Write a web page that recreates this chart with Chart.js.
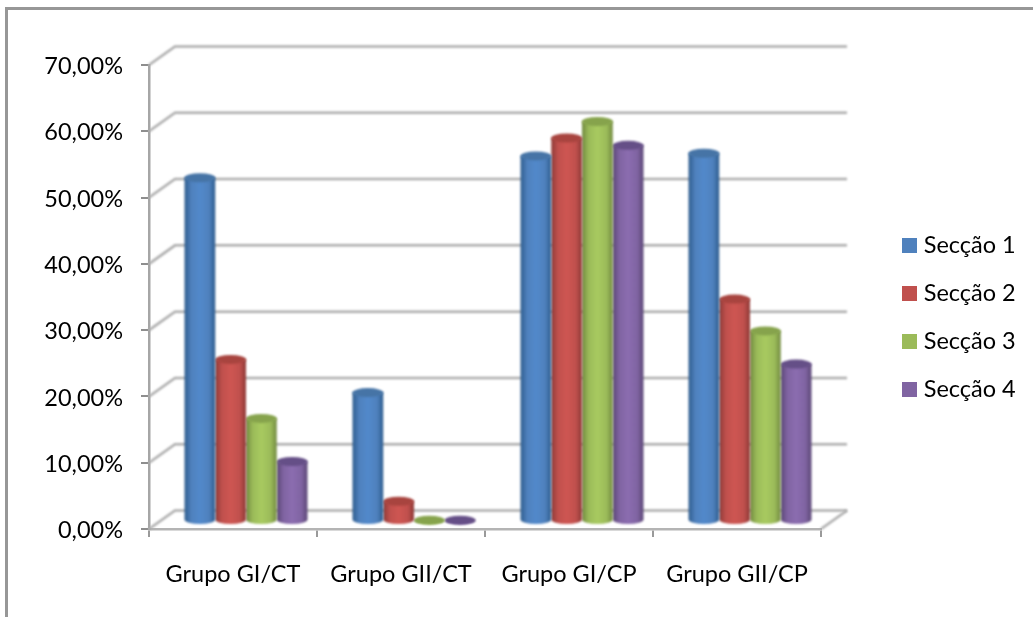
<!DOCTYPE html>
<html>
<head>
<meta charset="utf-8">
<style>
  html, body { margin: 0; padding: 0; background: #fff; }
  #wrap { position: relative; width: 1033px; height: 617px; }
</style>
<script src="https://cdn.jsdelivr.net/npm/chart.js@4/dist/chart.umd.min.js"></script>
</head>
<body>
<div id="wrap"><canvas id="chart" width="1033" height="617"></canvas></div>
<script>
// ── Data ─────────────────────────────────────────────────────
const categories = ['Grupo GI/CT', 'Grupo GII/CT', 'Grupo GI/CP', 'Grupo GII/CP'];
const seccao1 = [51.7, 19.3, 55.0, 55.4];
const seccao2 = [24.3, 2.9, 57.7, 33.4];
const seccao3 = [15.4, 0.05, 60.2, 28.6];
const seccao4 = [8.9, 0.05, 56.6, 23.6];
const seriesNames = ['Secção 1', 'Secção 2', 'Secção 3', 'Secção 4'];
const yTickLabels = ['0,00%', '10,00%', '20,00%', '30,00%', '40,00%', '50,00%', '60,00%', '70,00%'];

// ── Styles ───────────────────────────────────────────────────
const FONT = { family: 'Lato', size: 23.5 };
const seriesColor = ['#4F81BD', '#C0504D', '#9BBB59', '#8064A2'];
const seriesLight = ['#5289CB', '#CE5652', '#A8CA60', '#8B6DB0'];
const seriesDark  = ['#2F5D8E', '#8E3A37', '#728A41', '#5B4776'];
const seriesCap   = ['#4674A6', '#A8443F', '#86A34C', '#654F87'];
const WALL_DX = 26, WALL_DY = 18.5;   // depth of the 3D box
const BAR_DX = 13, BAR_DY = 8.5;      // bars stand in the middle of the floor
const CAP_RY = 4.5;
const SOFT = 'blur(0.8px)';           // the original is an upscaled, slightly soft image

// legend swatch, 15px square, as a point style so the text can sit closer to it
function swatch(color) {
  const c = document.createElement('canvas');
  c.width = 15; c.height = 15;
  const g = c.getContext('2d');
  g.fillStyle = color;
  g.fillRect(0, 0, 15, 15);
  return c;
}

// ── Plugins ──────────────────────────────────────────────────
const frameAndWalls = {
  id: 'frameAndWalls',
  beforeLayout(chart) {
    // legend takes a fixed column so the plot ends where the original does
    const l = chart.legend;
    if (l && !l._fixedFit) {
      const fit = l.fit;
      l.fit = function () { fit.call(this); this.width = 212; };
      l._fixedFit = true;
    }
  },
  afterLayout(chart) {
    const l = chart.legend;
    l.left = 882.5; l.right = 1033;
    const shift = 24;
    l.top -= shift; l.bottom -= shift;
  },
  beforeDatasetsDraw(chart) {
    const { ctx, scales: { y }, chartArea: a } = chart;
    ctx.save();
    // outer frame, top and left only
    ctx.strokeStyle = '#979797';
    ctx.lineWidth = 3;
    ctx.beginPath();
    ctx.moveTo(1033, 8.5); ctx.lineTo(6.5, 8.5); ctx.lineTo(6.5, 617);
    ctx.stroke();
    // back wall grid lines
    ctx.filter = SOFT;
    ctx.strokeStyle = '#acacac';
    ctx.lineWidth = 2.5;
    y.ticks.forEach(t => {
      const py = y.getPixelForValue(t.value);
      ctx.beginPath();
      ctx.moveTo(a.left, py);
      ctx.lineTo(a.left + WALL_DX, py - WALL_DY);
      ctx.lineTo(a.right + WALL_DX, py - WALL_DY);
      ctx.stroke();
    });
    // floor right edge
    const py0 = y.getPixelForValue(0);
    ctx.beginPath();
    ctx.moveTo(a.right, py0);
    ctx.lineTo(a.right + WALL_DX, py0 - WALL_DY);
    ctx.stroke();
    ctx.restore();
  }
};

const cylinders = {
  id: 'cylinders',
  beforeDatasetDraw(chart, args) {
    const ctx = chart.ctx;
    const i = args.index;
    ctx.save();
    ctx.filter = SOFT;
    ctx.translate(BAR_DX, -BAR_DY);
    args.meta.data.forEach(bar => {
      const { x, y, base, width } = bar.getProps(['x', 'y', 'base', 'width'], true);
      const l = x - width / 2, r = x + width / 2, rx = width / 2;
      const g = ctx.createLinearGradient(l, 0, r, 0);
      g.addColorStop(0, seriesDark[i]);
      g.addColorStop(0.22, seriesColor[i]);
      g.addColorStop(0.5, seriesLight[i]);
      g.addColorStop(0.8, seriesColor[i]);
      g.addColorStop(1, seriesDark[i]);
      ctx.fillStyle = g;
      ctx.beginPath();
      ctx.moveTo(l, y);
      ctx.lineTo(l, base);
      ctx.ellipse(x, base, rx, CAP_RY, 0, Math.PI, 0, true);
      ctx.lineTo(r, y);
      ctx.closePath();
      ctx.fill();
      ctx.fillStyle = seriesCap[i];
      ctx.beginPath();
      ctx.ellipse(x, y, rx, CAP_RY, 0, 0, Math.PI * 2);
      ctx.fill();
    });
    ctx.restore();
    return false;
  }
};

// ── Chart ────────────────────────────────────────────────────
const legendSwatches = seriesColor.map(swatch);

new Chart(document.getElementById('chart'), {
  type: 'bar',
  data: {
    labels: categories,
    datasets: [seccao1, seccao2, seccao3, seccao4].map((data, i) => ({
      label: seriesNames[i],
      data,
      backgroundColor: seriesColor[i],
      barPercentage: 1,
      categoryPercentage: 0.732
    }))
  },
  plugins: [frameAndWalls, cylinders],
  options: {
    responsive: false,
    animation: false,
    layout: { padding: { top: 65, left: 0, right: 0, bottom: 0 } },
    plugins: {
      tooltip: { enabled: false },
      legend: {
        position: 'right',
        labels: {
          font: FONT,
          color: '#000',
          usePointStyle: true,
          pointStyleWidth: 5,
          padding: 24.5,
          generateLabels: chart => Chart.defaults.plugins.legend.labels.generateLabels(chart)
            .map((item, i) => ({ ...item, pointStyle: legendSwatches[i] }))
        }
      }
    },
    scales: {
      x: {
        grid: { offset: true, drawOnChartArea: false, color: '#9a9a9a', lineWidth: 2, tickLength: 8 },
        border: { color: '#b4b4b4', width: 2.5 },
        ticks: { font: FONT, color: '#000', padding: 23, maxRotation: 0, autoSkip: false },
        afterFit(s) { s.height = 88; }
      },
      y: {
        min: 0,
        max: 70,
        grid: { drawOnChartArea: false, color: '#8e8e8e', lineWidth: 2, tickLength: 8 },
        border: { color: '#a6a6a6', width: 2.5 },
        ticks: {
          stepSize: 10,
          font: FONT,
          color: '#000',
          padding: 18,
          labelOffset: 1.5,
          callback: (v, i) => yTickLabels[i]
        },
        afterFit(s) { s.width = 149; }
      }
    }
  }
});
</script>
</body>
</html>
